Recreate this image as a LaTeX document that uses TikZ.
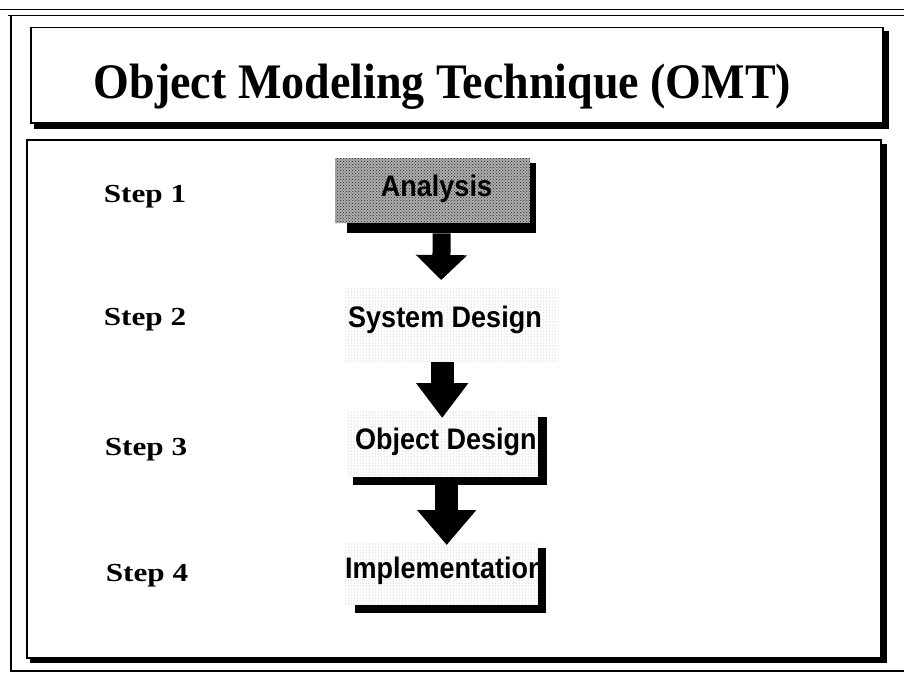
\documentclass[tikz,border=0pt]{standalone}
\usepackage{graphicx}
\usepackage{fontspec}
\setmainfont{Liberation Serif}
\newfontfamily\boxfont{Liberation Sans}
\usetikzlibrary{patterns,arrows.meta,calc}

\begin{document}
\begin{tikzpicture}[x=1pt,y=-1pt,
  frameline/.style={line width=1.1pt},
  panel/.style={draw=black, line width=1.6pt, fill=white, inner sep=0pt, anchor=north west},
  shade/.style={fill=black},
  steplabel/.style={font=\fontsize{26}{30}\selectfont\bfseries, anchor=base, inner sep=0pt},
  stagebox/.style={inner sep=0pt, anchor=north west, preaction={fill=white}, pattern=dots, pattern color=black!35},
  darkstage/.style={inner sep=0pt, anchor=north west, preaction={fill=black!32}, pattern=crosshatch dots, pattern color=black!85},
  stagetext/.style={font=\boxfont\bfseries\fontsize{27}{30}\selectfont, inner sep=0pt},
  flow/.style={draw=black, line width=#1}
]
% page and outer frame
\fill[white] (0,0) rectangle (904,673);
\useasboundingbox (0,0) rectangle (904,673);
\draw[frameline] (0,9.5) -- (904,9.5);
\draw[frameline] (8,15.5) -- (904,15.5);
\draw[frameline] (11,15.5) -- (11,671) -- (904,671);

% title panel
\node[panel, minimum width=852pt, minimum height=95.5pt] (tb) at (30,26.5) {};
\fill[shade] ($(tb.north east)+(0,4)$) rectangle ($(tb.south east)+(5,5)$);
\fill[shade] ($(tb.south west)+(4,0)$) rectangle ($(tb.south east)+(5,5)$);
\node[font=\fontsize{46}{50}\selectfont\bfseries, anchor=base, inner sep=0pt] (title) at (442.5,98) {\scalebox{1}[1.08]{Object Modeling Technique (OMT)}};

% content panel
\node[panel, minimum width=854pt, minimum height=518pt] (cb) at (26,139) {};
\fill[shade] ($(cb.north east)+(0,5)$) rectangle ($(cb.south east)+(5,4)$);
\fill[shade] ($(cb.south west)+(4,0)$) rectangle ($(cb.south east)+(5,4)$);

% step labels
\node[steplabel] (s1) at (145,202) {\scalebox{1.2}[1]{Step 1}};
\node[steplabel] (s2) at (145,325) {\scalebox{1.2}[1]{Step 2}};
\node[steplabel] (s3) at (146,455) {\scalebox{1.2}[1]{Step 3}};
\node[steplabel] (s4) at (147,581) {\scalebox{1.2}[1]{Step 4}};

% stage boxes
\node[darkstage, minimum width=195pt, minimum height=65pt] (an) at (335,158) {};
\node[stagetext, anchor=base] (antext) at (436.5,196) {\scalebox{1}[1.1]{Analysis}};
\fill[shade] ($(an.north east)+(0,5)$) rectangle ($(an.south east)+(6,10)$);
\fill[shade] ($(an.south west)+(12,0)$) rectangle ($(an.south east)+(6,10)$);

\node[stagebox, minimum width=213pt, minimum height=74pt] (sd) at (345,288) {};
\node[stagetext, anchor=base] (sdtext) at (445,327) {\scalebox{1}[1.1]{System Design}};

\node[stagebox, minimum width=191pt, minimum height=67pt] (od) at (347,410) {};
\node[stagetext, anchor=base west] (odtext) at (355,449) {\scalebox{1}[1.1]{Object Design}};
\fill[shade] ($(od.north east)+(0,7)$) rectangle ($(od.south east)+(9,8)$);
\fill[shade] ($(od.south west)+(6,0)$) rectangle ($(od.south east)+(9,8)$);

\node[stagebox, minimum width=193pt, minimum height=63pt] (im) at (345,542) {};
\node[stagetext, anchor=base west] (imtext) at (345,578) {\scalebox{1}[1.1]{Implementation}};
\fill[shade] ($(im.north east)+(0,6)$) rectangle ($(im.south east)+(8,8)$);
\fill[shade] ($(im.south west)+(10,0)$) rectangle ($(im.south east)+(8,8)$);

% block arrows between the stages
\draw[flow=18pt, -{Triangle[width=50pt,length=25pt]}] ($(an.south)+(9,10)$) -- ($(sd.north)+(-10.5,-8)$);
\draw[flow=23pt, -{Triangle[width=50pt,length=35pt]}] ($(sd.south)+(-9.5,0)$) -- ($(od.north)+(-0.5,8)$);
\draw[flow=23pt, -{Triangle[width=57pt,length=35pt]}] ($(od.south)+(4,8)$) -- ($(im.north)+(5,3)$);
\end{tikzpicture}
\end{document}
